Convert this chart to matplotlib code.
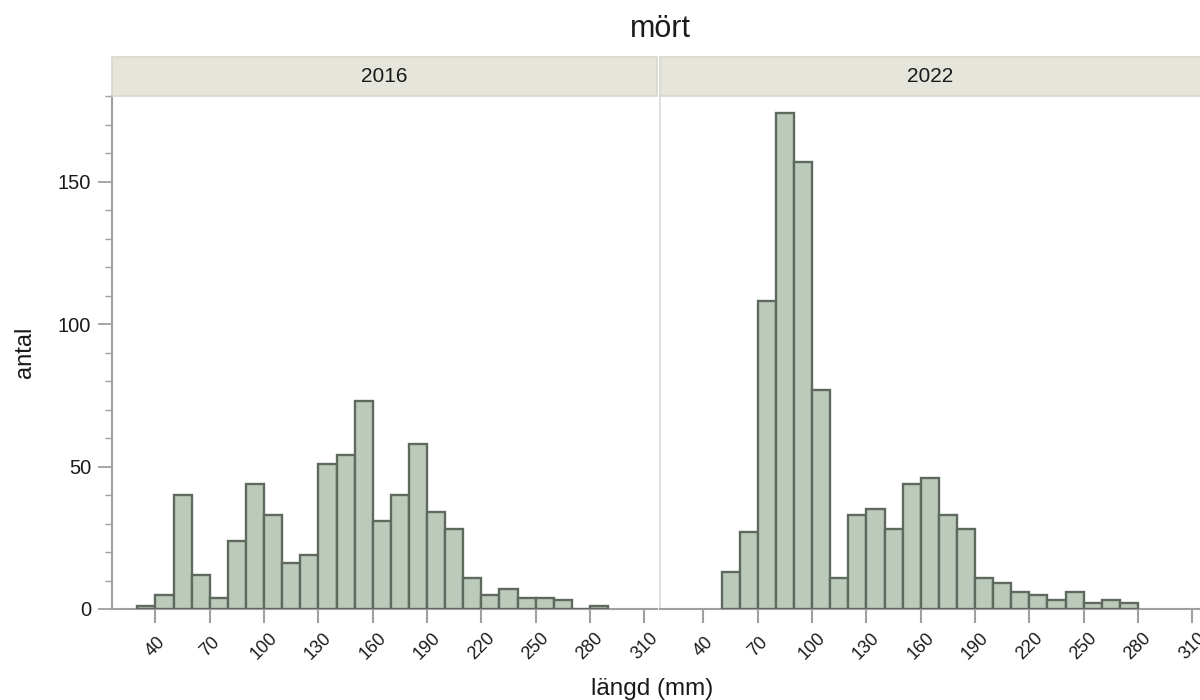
import matplotlib
matplotlib.use('Agg')
import matplotlib.pyplot as plt
import matplotlib.ticker as mticker
from matplotlib.patches import Rectangle

plt.rcParams['font.family'] = ['Liberation Sans', 'DejaVu Sans']

BAR_FILL = "#bccabb"
BAR_EDGE = "#5e6a5e"
AXIS     = "#a0a0a0"
STRIP_BG = "#e6e5dc"
STRIP_ED = "#d8d7cb"
TEXT     = "#1a1a1a"

# längdklasser (mm, nedre gräns) och antal per år
bins_2016   = [30, 40, 50, 60, 70, 80, 90, 100, 110, 120, 130, 140, 150,
               160, 170, 180, 190, 200, 210, 220, 230, 240, 250, 260, 270, 280]
counts_2016 = [1, 5, 40, 12, 4, 24, 44, 33, 16, 19, 51, 54, 73,
               31, 40, 58, 34, 28, 11, 5, 7, 4, 4, 3, 0, 1]

bins_2022   = [50, 60, 70, 80, 90, 100, 110, 120, 130, 140, 150, 160,
               170, 180, 190, 200, 210, 220, 230, 240, 250, 260, 270]
counts_2022 = [13, 27, 108, 174, 157, 77, 11, 33, 35, 28, 44, 46,
               33, 28, 11, 9, 6, 5, 3, 6, 2, 3, 2]

years = ["2016", "2022"]
x_ticks = [40, 70, 100, 130, 160, 190, 220, 250, 280, 310]
bin_width = 10

W, H = 1200, 700
fig = plt.figure(figsize=(12, 7), dpi=100)
fig.patch.set_facecolor("white")


def px_box(x0, y0, x1, y1):
    # pixel box (top-left origin) -> figure fraction [l, b, w, h]
    return [x0 / W, 1 - y1 / H, (x1 - x0) / W, (y1 - y0) / H]


panels = [
    (px_box(112, 96, 657, 609), bins_2016, counts_2016, True),
    (px_box(660, 96, 1205, 609), bins_2022, counts_2022, False),
]

for (box, bins, counts, first), year in zip(panels, years):
    ax = fig.add_axes(box)
    ax.bar(bins, counts, width=bin_width, align='edge',
           color=BAR_FILL, edgecolor=BAR_EDGE, linewidth=1.7, zorder=3)
    ax.set_xlim(16, 317)
    ax.set_ylim(0, 180)

    for s in ("top", "right"):
        ax.spines[s].set_visible(False)
    ax.spines["bottom"].set_color(AXIS)
    ax.spines["bottom"].set_linewidth(1.5)

    ax.set_xticks(x_ticks)
    ax.set_xticklabels([str(t) for t in x_ticks], rotation=45,
                       ha='center', va='center', fontsize=13, color=TEXT)
    ax.tick_params(axis='x', length=10, width=1.5, color=AXIS, pad=17)

    if first:
        ax.spines["left"].set_color(AXIS)
        ax.spines["left"].set_linewidth(1.5)
        ax.yaxis.set_major_locator(mticker.MultipleLocator(50))
        ax.yaxis.set_minor_locator(mticker.MultipleLocator(10))
        ax.tick_params(axis='y', which='major', length=10, width=1.3,
                       color=AXIS, labelsize=14.5, labelcolor=TEXT, pad=5)
        ax.tick_params(axis='y', which='minor', length=5, width=1.0, color=AXIS)
        ax.set_ylabel("antal", fontsize=17, color=TEXT, labelpad=16)
    else:
        ax.spines["left"].set_color("#dcdcdc")
        ax.spines["left"].set_linewidth(1.2)
        ax.set_yticks([])

    # facet strip above the panel
    l, b, w, h = box
    strip_h = 39 / H
    fig.add_artist(Rectangle((l, b + h), w, strip_h, transform=fig.transFigure,
                             facecolor=STRIP_BG, edgecolor=STRIP_ED,
                             linewidth=1.2, zorder=1))
    fig.text(l + w / 2 if first else (660 + 270) / W, b + h + strip_h / 2, year,
             ha='center', va='center', fontsize=15, color=TEXT)

fig.text(660 / W, 1 - 29 / H, "mört", ha='center', va='center',
         fontsize=22, color=TEXT)
fig.text(652 / W, 1 - 689 / H, "längd (mm)", ha='center', va='center',
         fontsize=17.5, color=TEXT)

plt.savefig("out.png", dpi=100, facecolor="white")
plt.close()
